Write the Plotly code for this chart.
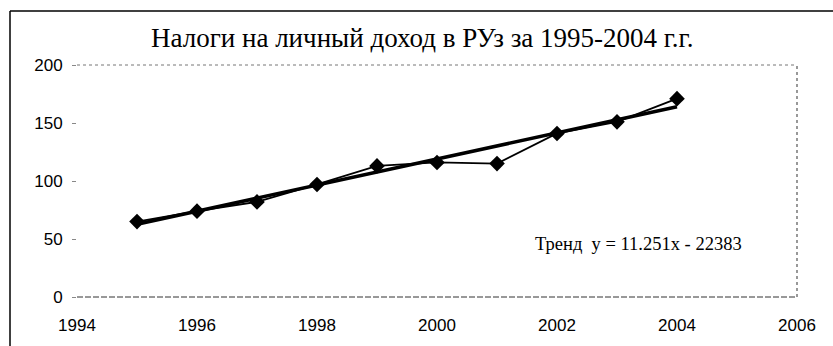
import plotly.graph_objects as go

# Personal income tax revenue by year
years = [1995, 1996, 1997, 1998, 1999, 2000, 2001, 2002, 2003, 2004]
tax_values = [65, 74, 82, 97, 113, 116, 115, 141, 151, 171]

# Linear trend coefficients: y = slope * x + intercept
trend_slope = 11.251
trend_intercept = -22383

x_ticks = [1994, 1996, 1998, 2000, 2002, 2004, 2006]
y_ticks = [0, 50, 100, 150, 200]

title_text = "Налоги на личный доход в РУз за 1995-2004 г.г."
trend_label = f"Тренд  y = {trend_slope}x - {abs(trend_intercept)}"

trend_x = [years[0], years[-1]]
trend_y = [trend_slope * x + trend_intercept for x in trend_x]

fig = go.Figure()

fig.add_trace(go.Scatter(
    x=years, y=tax_values, mode="lines+markers",
    line=dict(color="black", width=1.8),
    marker=dict(symbol="diamond", size=12, color="black"),
    showlegend=False, hoverinfo="skip",
))

fig.add_trace(go.Scatter(
    x=trend_x, y=trend_y, mode="lines",
    line=dict(color="black", width=3.6),
    showlegend=False, hoverinfo="skip",
))

W, H = 833, 346
L, R, T, B = 77, 36, 65, 49

fig.update_layout(
    width=W, height=H,
    margin=dict(l=L, r=R, t=T, b=B, pad=0),
    paper_bgcolor="white", plot_bgcolor="white",
    font=dict(family="Liberation Sans, Arial, sans-serif", size=15, color="black"),
    xaxis=dict(
        range=[1994, 2006], tickvals=x_ticks, ticktext=[str(v) for v in x_ticks],
        showgrid=False, zeroline=False, showline=False,
        ticks="", ticklabelstandoff=16,
        tickfont=dict(size=17),
    ),
    yaxis=dict(
        range=[0, 200], tickvals=y_ticks, ticktext=[str(v) for v in y_ticks],
        showgrid=False, zeroline=False, showline=False,
        ticks="outside", ticklen=4, tickcolor="#888", tickwidth=1,
        ticklabelstandoff=6,
        tickfont=dict(size=17),
    ),
    annotations=[
        dict(text=title_text, xref="paper", yref="paper",
             x=(422 - L) / 720, y=(297 - 38) / 232,
             xanchor="center", yanchor="middle", showarrow=False,
             font=dict(family="Liberation Serif, Times New Roman, serif", size=27, color="black")),
        dict(text=trend_label, xref="x", yref="y",
             x=2003.35, y=46, xanchor="center", yanchor="middle", showarrow=False,
             font=dict(family="Liberation Serif, Times New Roman, serif", size=18.5, color="black")),
    ],
    shapes=[
        # dotted plot-area border (top and right)
        dict(type="line", xref="paper", yref="paper", x0=0, x1=1, y0=1, y1=1,
             line=dict(color="#777", width=1, dash="dot")),
        dict(type="line", xref="paper", yref="paper", x0=1, x1=1, y0=0, y1=1,
             line=dict(color="#555", width=1.2, dash="dot")),
        # x axis line
        dict(type="line", xref="paper", yref="paper", x0=0, x1=1, y0=0, y1=0,
             line=dict(color="#333", width=1, dash="6px,2px")),
        # outer chart frame (left and top edges)
        dict(type="line", xref="paper", yref="paper",
             x0=(10 - L) / 720, x1=(10 - L) / 720, y0=(297 - 11) / 232, y1=(297 - 346) / 232,
             line=dict(color="black", width=1.5)),
        dict(type="line", xref="paper", yref="paper",
             x0=(10 - L) / 720, x1=(833 - L) / 720, y0=(297 - 11) / 232, y1=(297 - 11) / 232,
             line=dict(color="black", width=1.5)),
    ],
)

fig.write_html("out.html")
